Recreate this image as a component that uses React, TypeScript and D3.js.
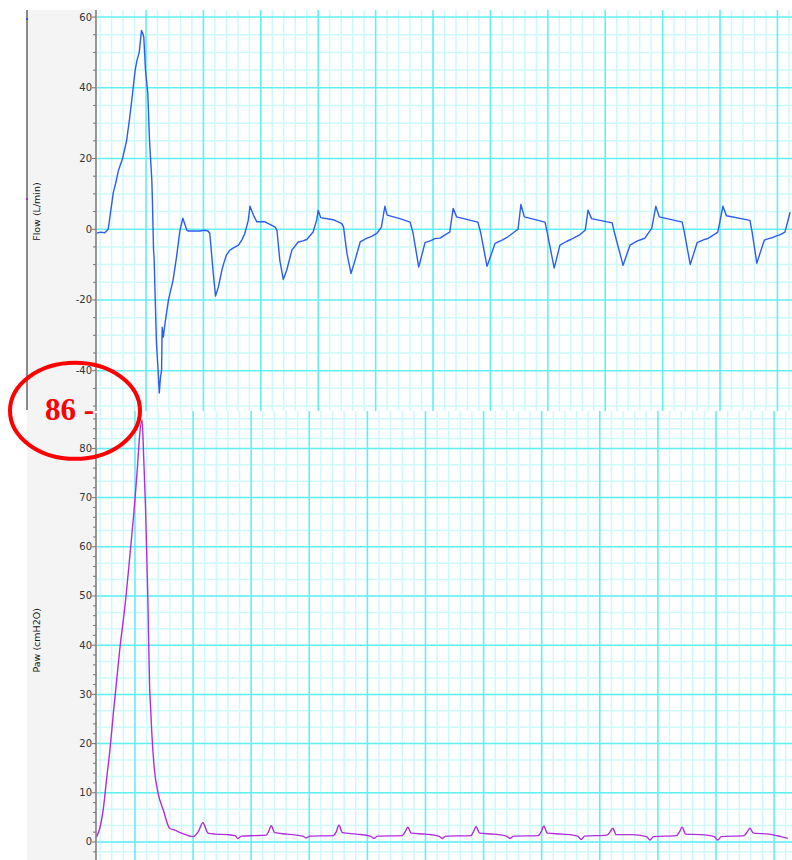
import React from 'react';
import * as d3 from 'd3';

const W = 792;
const H = 860;

// Flow (L/min) trace: time (s) and value
const FLOW_TIME = [
  0.03, 0.10, 0.17, 0.23, 0.26, 0.32, 0.36, 0.41, 0.48, 0.55, 0.60, 0.64, 0.70, 0.73, 0.77, 0.81, 0.83, 0.85, 0.88, 0.92,
  0.95, 0.99, 1.00, 1.02, 1.03, 1.07, 1.10, 1.12, 1.14, 1.16, 1.17, 1.19, 1.22, 1.28, 1.36, 1.42, 1.48, 1.53, 1.60, 1.63,
  1.83, 1.90, 1.97, 2.00, 2.06, 2.10, 2.15, 2.21, 2.24, 2.29, 2.35, 2.42, 2.50, 2.56, 2.61, 2.67, 2.70, 2.76, 2.82, 2.96, 3.14, 3.17,
  3.22, 3.28, 3.34, 3.43, 3.54, 3.62, 3.69, 3.80, 3.86, 3.89, 3.93, 4.15, 4.30, 4.33, 4.39, 4.46, 4.53, 4.62, 4.73, 4.82, 4.91, 4.99,
  5.05, 5.09, 5.31, 5.49, 5.54, 5.64, 5.75, 5.85, 5.93, 6.01, 6.10, 6.18, 6.24, 6.30, 6.67, 6.72, 6.83, 6.97, 7.10, 7.17, 7.23, 7.37, 7.42,
  7.48, 7.84, 7.88, 8.00, 8.10, 8.22, 8.29, 8.36, 8.45, 8.54, 8.59, 8.65, 9.01, 9.05, 9.20, 9.32, 9.45, 9.52, 9.58, 9.70, 9.77, 9.83, 10.23,
  10.27, 10.37, 10.49, 10.60, 10.66, 10.71, 10.85, 10.94, 11.00, 11.41, 11.45, 11.53, 11.66, 11.75, 11.80, 11.85, 11.94, 12.02, 12.11,
];
const FLOW_LPM = [
  -1.1, -0.8, -1.0, 0.0, 3.5, 10.5, 13.0, 16.7, 20.0, 25.0, 31.0, 36.4, 45.0, 47.7, 50.0, 56.2, 55.5, 54.3, 45.0, 38.4,
  25.0, 13.8, 8.2, -5.9, -8.2, -32.0, -40.0, -46.3, -42.0, -39.8, -27.7, -30.5, -26.6, -20.0, -14.4, -7.9, -0.3, 3.1, -0.3, -0.5,
  -0.5, -0.3, -0.5, -1.2, -12.4, -18.9, -16.3, -11.6, -9.8, -7.3, -5.9, -5.2, -4.5, -3.0, -1.2, 2.5, 6.5, 4.0, 2.1, 2.1, 0.6, -0.3,
  -8.8, -14.2, -11.6, -5.9, -3.6, -3.3, -2.9, -0.8, 2.5, 5.4, 3.3, 2.7, 1.6, 0.6, -6.9, -12.5, -8.8, -3.6, -2.6, -2.0, -1.2, 0.6,
  6.5, 4.0, 3.0, 2.0, -1.0, -10.7, -3.8, -3.2, -2.6, -2.5, -1.6, -0.8, 5.9, 3.5, 2.0, -1.0, -10.5, -4.0, -3.0, -2.4, -1.7, 0.0, 7.0,
  3.5, 2.0, -1.0, -11.0, -4.5, -3.4, -2.9, -2.3, -1.5, -0.3, 5.4, 3.0, 1.8, -1.0, -10.2, -4.5, -3.3, -2.9, -2.5, 0.3, 6.5, 3.5, 2.0,
  -1.0, -10.0, -3.8, -3.0, -2.7, -2.3, -0.8, 6.5, 3.8, 2.5, -1.0, -9.6, -3.1, -2.6, -2.4, -2.0, -1.5, -0.8, 4.8,
];

// Paw (cmH2O) trace: time (s) and value
const PAW_TIME = [
  0.03, 0.09, 0.15, 0.20, 0.26, 0.32, 0.43, 0.54, 0.61, 0.67, 0.70, 0.74, 0.78, 0.82, 0.85, 0.88, 0.92, 0.95, 0.97, 0.99,
  1.03, 1.10, 1.19, 1.30, 1.39, 1.51, 1.71, 1.80, 1.88, 1.97, 2.10, 2.30, 2.44, 2.49, 2.55, 2.80, 2.98, 3.02, 3.07, 3.13,
  3.35, 3.62, 3.68, 3.74, 4.15, 4.20, 4.25, 4.31, 4.55, 4.80, 4.86, 4.92, 5.35, 5.40, 5.45, 5.51, 5.75, 5.99, 6.05, 6.11,
  6.55, 6.59, 6.64, 6.70, 6.95, 7.17, 7.23, 7.29, 7.72, 7.77, 7.82, 7.88, 8.15, 8.41, 8.47, 8.53, 8.92, 8.97, 9.02, 9.08,
  9.35, 9.61, 9.67, 9.73, 10.13, 10.18, 10.23, 10.29, 10.55, 10.79, 10.85, 10.91, 11.31, 11.36, 11.41, 11.47, 11.75, 11.95, 12.07,
];
const PAW_CMH2O = [
  1.1, 3.1, 7.2, 12.6, 18.7, 26.2, 39.0, 49.9, 58.5, 66.0, 70.2, 76.3, 83.0, 85.8, 77.6, 68.1, 49.9, 32.0, 27.0, 22.1,
  15.3, 9.9, 6.5, 2.8, 2.4, 1.8, 1.1, 2.1, 3.9, 1.8, 1.6, 1.5, 1.3, 0.7, 1.2, 1.3, 1.4, 2.0, 3.3, 1.9,
  1.6, 1.2, 0.8, 1.2, 1.3, 2.0, 3.4, 1.9, 1.6, 1.2, 0.7, 1.2, 1.3, 2.0, 3.0, 1.8, 1.6, 1.2, 0.7, 1.2,
  1.3, 2.0, 3.1, 1.8, 1.6, 1.2, 0.7, 1.2, 1.3, 2.0, 3.2, 1.8, 1.6, 1.2, 0.5, 1.2, 1.4, 2.0, 2.8, 1.5,
  1.5, 1.1, 0.4, 1.1, 1.3, 2.0, 3.0, 1.6, 1.5, 1.1, 0.4, 1.1, 1.3, 2.0, 2.8, 1.8, 1.6, 1.1, 0.75,
];

const FLOW_TICKS = [60, 40, 20, 0, -20, -40];
const PAW_TICKS = [0, 10, 20, 30, 40, 50, 60, 70, 80];
const FLOW_TITLE = 'Flow (L/min)';
const PAW_TITLE = 'Paw (cmH2O)';
const ANNOTATION = '86 -';

// layout
const AXIS_X = 96;
const PANEL_LEFT = 27;
const TOP_Y0 = 10;
const SPLIT_Y = 411;

const MAJOR = '#62eff4';
const MINOR = '#cdf9fa';

export default function App() {
  const x = d3.scaleLinear().domain([0, 697 / 57.4]).range([95, W]);
  const yFlow = d3.scaleLinear().domain([-51.4, 62]).range([SPLIT_Y, TOP_Y0]);
  const yPaw = d3.scaleLinear().domain([-3.66, 87.6]).range([H, SPLIT_Y]);
  const xGridTop = x;
  const xGridBot = d3.scaleLinear().domain([0, 697 / 58.1]).range([95, W]);

  const flowLine = d3
    .line<number>()
    .x((_, i) => x(FLOW_TIME[i]))
    .y((d) => yFlow(d));
  const pawLine = d3
    .line<number>()
    .x((_, i) => x(PAW_TIME[i]))
    .y((d) => yPaw(d))
    .curve(d3.curveMonotoneX);

  const vLines = (scale: d3.ScaleLinear<number, number>, phase: number) => {
    const out: { px: number; major: boolean }[] = [];
    for (let k = -10; k < 80; k++) {
      const t = phase + k * 0.2;
      const px = scale(t);
      if (px > AXIS_X + 1 && px < W) out.push({ px, major: ((k % 5) + 5) % 5 === 0 });
    }
    return out;
  };
  const topV = vLines(xGridTop, 0.889);
  const botV = vLines(xGridBot, 0.688);

  const topH = d3.range(-50, 61, 5).map((v) => ({ py: yFlow(v), major: v % 20 === 0 }));
  const botMinorVals = [-2, ...d3.range(0, 80.01, 10 / 3), 82, 84, 86];
  const botH = [
    ...botMinorVals.map((v) => ({ py: yPaw(v), major: false })),
    ...PAW_TICKS.map((v) => ({ py: yPaw(v), major: true })),
  ];

  const flowMinorTicks = d3.range(-50, 61, 5);
  const pawMinorTicks = d3.range(-2, 87, 2);

  const font = "'DejaVu Sans', 'Noto Sans', sans-serif";

  const grid = (
    vs: { px: number; major: boolean }[],
    hs: { py: number; major: boolean }[],
    y0: number,
    y1: number,
    key: string
  ) => (
    <g key={key}>
      {hs.filter((h) => !h.major).map((h, i) => (
        <line key={`hm${i}`} x1={AXIS_X + 1} x2={W} y1={h.py} y2={h.py} stroke={MINOR} strokeWidth={1.5} />
      ))}
      {vs.filter((v) => !v.major).map((v, i) => (
        <line key={`vm${i}`} x1={v.px} x2={v.px} y1={y0} y2={y1} stroke={MINOR} strokeWidth={1.5} />
      ))}
      {hs.filter((h) => h.major).map((h, i) => (
        <line key={`hM${i}`} x1={AXIS_X + 1} x2={W} y1={h.py} y2={h.py} stroke={MAJOR} strokeWidth={1.5} />
      ))}
      {vs.filter((v) => v.major).map((v, i) => (
        <line key={`vM${i}`} x1={v.px} x2={v.px} y1={y0} y2={y1} stroke={MAJOR} strokeWidth={1.6} />
      ))}
    </g>
  );

  return (
    <svg
      width={W}
      height={H}
      viewBox={`0 0 ${W} ${H}`}
      style={{ position: 'absolute', left: 0, top: 0, background: '#fff' }}
    >
      <defs>
        <clipPath id="topClip">
          <rect x={AXIS_X} y={TOP_Y0} width={W - AXIS_X} height={SPLIT_Y - TOP_Y0} />
        </clipPath>
        <clipPath id="botClip">
          <rect x={AXIS_X} y={SPLIT_Y} width={W - AXIS_X} height={H - SPLIT_Y} />
        </clipPath>
      </defs>
      <rect x={0} y={0} width={W} height={H} fill="#fff" />
      {/* left gray strip */}
      <rect x={PANEL_LEFT} y={TOP_Y0} width={AXIS_X - PANEL_LEFT} height={H - TOP_Y0} fill="#f4f4f4" />
      <line x1={PANEL_LEFT} x2={PANEL_LEFT} y1={TOP_Y0} y2={SPLIT_Y - 1} stroke="#666" strokeWidth={1.5} />
      <rect x={PANEL_LEFT - 1} y={18} width={2} height={2} fill="#3355dd" />
      <rect x={PANEL_LEFT - 1} y={198} width={2} height={2} fill="#9933cc" />

      {grid(topV, topH, TOP_Y0, SPLIT_Y, 'gt')}
      {grid(botV, botH, SPLIT_Y, H, 'gb')}

      {/* axes */}
      <line x1={AXIS_X} x2={AXIS_X} y1={TOP_Y0} y2={SPLIT_Y} stroke="#777" strokeWidth={1.5} />
      <line x1={AXIS_X} x2={AXIS_X} y1={SPLIT_Y + 2} y2={H} stroke="#777" strokeWidth={1.5} />
      {flowMinorTicks.map((v) => (
        <line
          key={`ft${v}`}
          x1={AXIS_X - (v % 20 === 0 ? 4 : 3)}
          x2={AXIS_X}
          y1={yFlow(v)}
          y2={yFlow(v)}
          stroke="#777"
          strokeWidth={1}
        />
      ))}
      {pawMinorTicks.map((v) => (
        <line
          key={`pt${v}`}
          x1={AXIS_X - (v % 10 === 0 ? 4 : 3)}
          x2={AXIS_X}
          y1={yPaw(v)}
          y2={yPaw(v)}
          stroke="#777"
          strokeWidth={1}
        />
      ))}
      {FLOW_TICKS.map((v) => (
        <text
          key={`fl${v}`}
          x={AXIS_X - 4}
          y={yFlow(v)}
          dy="0.35em"
          textAnchor="end"
          fontFamily={font}
          fontSize={10}
          fill="#333"
        >
          {v}
        </text>
      ))}
      {PAW_TICKS.map((v) => (
        <text
          key={`pl${v}`}
          x={AXIS_X - 4}
          y={yPaw(v)}
          dy="0.35em"
          textAnchor="end"
          fontFamily={font}
          fontSize={10}
          fill="#333"
        >
          {v}
        </text>
      ))}
      <text
        transform={`translate(40,${yFlow(5)}) rotate(-90)`}
        textAnchor="middle"
        fontFamily={font}
        fontSize={9.5}
        fill="#111"
      >
        {FLOW_TITLE}
      </text>
      <text
        transform={`translate(40,${yPaw(41)}) rotate(-90)`}
        textAnchor="middle"
        fontFamily={font}
        fontSize={9.5}
        fill="#111"
      >
        {PAW_TITLE}
      </text>

      {/* traces */}
      <g clipPath="url(#topClip)">
        <path d={flowLine(FLOW_LPM) || ''} fill="none" stroke="#2c5cf0" strokeWidth={1.4} strokeLinejoin="round" />
      </g>
      <g clipPath="url(#botClip)">
        <path d={pawLine(PAW_CMH2O) || ''} fill="none" stroke="#b02ddc" strokeWidth={1.4} strokeLinejoin="round" />
      </g>

      {/* annotation */}
      <ellipse cx={75} cy={yPaw(86) - 8} rx={65} ry={48} fill="none" stroke="#ff0000" strokeWidth={4} />
      <text
        x={45}
        y={yPaw(86) + 1}
        fontFamily="'Liberation Serif', 'Times New Roman', serif"
        fontWeight="bold"
        fontSize={31}
        fill="#ff0000"
      >
        {ANNOTATION}
      </text>
    </svg>
  );
}
